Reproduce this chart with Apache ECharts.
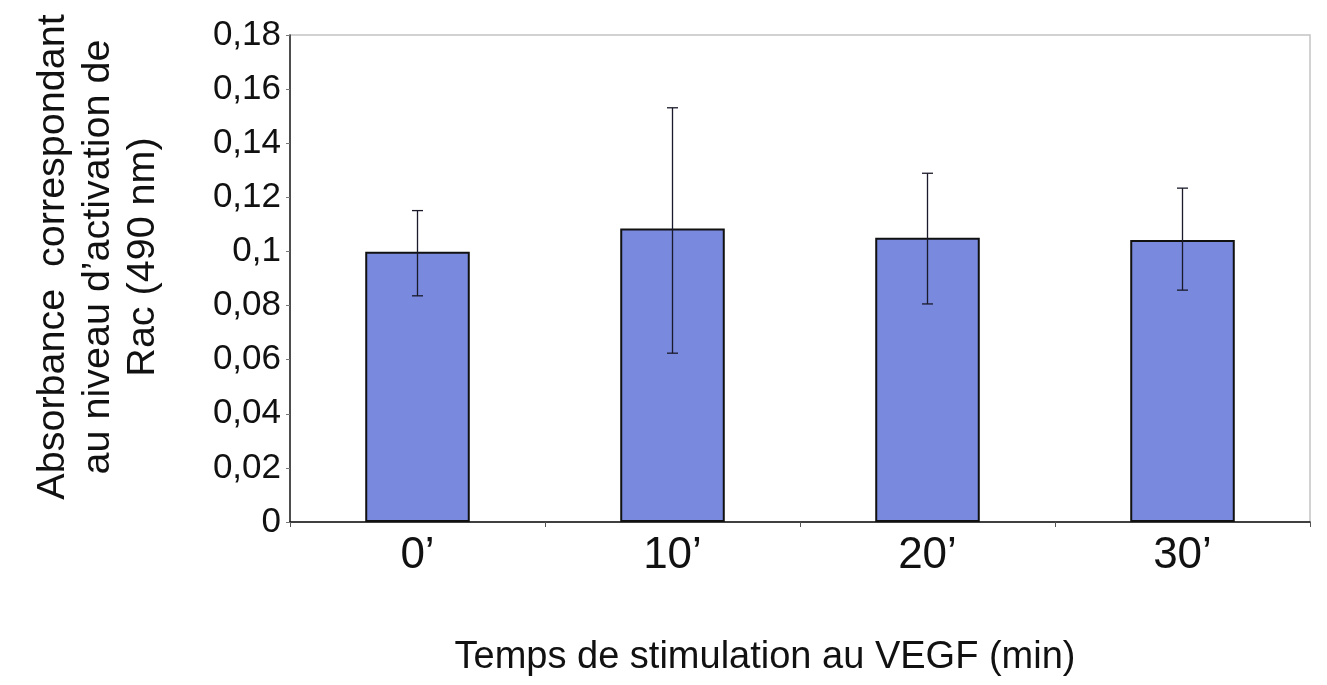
<!DOCTYPE html>
<html>
<head>
<meta charset="utf-8">
<script src="https://cdn.jsdelivr.net/npm/echarts@6/dist/echarts.min.js"></script>
<style>
html,body{margin:0;padding:0;background:#fff;}
#chart{width:1327px;height:685px;}
</style>
</head>
<body>
<div id="chart"></div>
<script>
const categories = ["0\u2019", "10\u2019", "20\u2019", "30\u2019"];
const means = [0.0999, 0.1085, 0.1051, 0.1042];
const errLow = [0.0836, 0.0624, 0.0806, 0.0857];
const errHigh = [0.1151, 0.1531, 0.1289, 0.1234];
const yTicks = { min: 0, max: 0.18, interval: 0.02 };
const xTitle = "Temps de stimulation au VEGF (min)";
const yTitleLines = ["Absorbance  correspondant", "au niveau d\u2019activation de", "Rac (490 nm)"];

const font = "Liberation Sans, Arial, sans-serif";
const chart = echarts.init(document.getElementById('chart'));

const errData = categories.map((c, i) => [i, errLow[i], errHigh[i]]);

chart.setOption({
  animation: false,
  backgroundColor: '#fff',
  grid: { left: 290, right: 17, top: 35, bottom: 163, show: true, borderColor: '#c4c4c4', borderWidth: 1.5, backgroundColor: 'transparent' },
  xAxis: {
    type: 'category',
    data: categories,
    axisLine: { lineStyle: { color: '#111', width: 1.5 } },
    axisTick: { show: true, length: 5, lineStyle: { color: '#555' }, alignWithLabel: false },
    axisLabel: { fontFamily: font, fontSize: 44, color: '#111', margin: 12 },
    splitLine: { show: false }
  },
  yAxis: {
    type: 'value',
    min: yTicks.min, max: yTicks.max, interval: yTicks.interval,
    axisLine: { show: true, lineStyle: { color: '#222', width: 1.5 } },
    axisTick: { show: true, length: 4, lineStyle: { color: '#777' } },
    splitLine: { show: false },
    axisLabel: {
      fontFamily: font, fontSize: 35, color: '#111', margin: 9,
      formatter: v => String(Math.round(v * 100) / 100).replace('.', ',')
    }
  },
  graphic: [
    {
      type: 'text', x: 98, y: 257, rotation: Math.PI / 2,
      style: { text: yTitleLines.join('\n'), font: '39.5px ' + font, fill: '#111', align: 'center', verticalAlign: 'middle', lineHeight: 45 }
    },
    {
      type: 'text', x: 765, y: 658,
      style: { text: xTitle, font: '38px ' + font, fill: '#111', align: 'center', verticalAlign: 'middle' }
    }
  ],
  series: [
    {
      type: 'bar',
      data: means,
      barWidth: '41%',
      itemStyle: { color: '#7889DE', borderColor: '#111', borderWidth: 2 },
      z: 2
    },
    {
      type: 'custom',
      data: errData,
      z: 3,
      renderItem: function (params, api) {
        const x = api.coord([api.value(0), 0])[0];
        const lo = api.coord([api.value(0), api.value(1)])[1];
        const hi = api.coord([api.value(0), api.value(2)])[1];
        const hw = 5.5;
        const st = { stroke: '#1a1a2a', lineWidth: 1.3 };
        return {
          type: 'group',
          children: [
            { type: 'line', shape: { x1: x, y1: hi, x2: x, y2: lo }, style: st },
            { type: 'line', shape: { x1: x - hw, y1: hi, x2: x + hw, y2: hi }, style: st },
            { type: 'line', shape: { x1: x - hw, y1: lo, x2: x + hw, y2: lo }, style: st }
          ]
        };
      }
    }
  ]
});
</script>
</body>
</html>
